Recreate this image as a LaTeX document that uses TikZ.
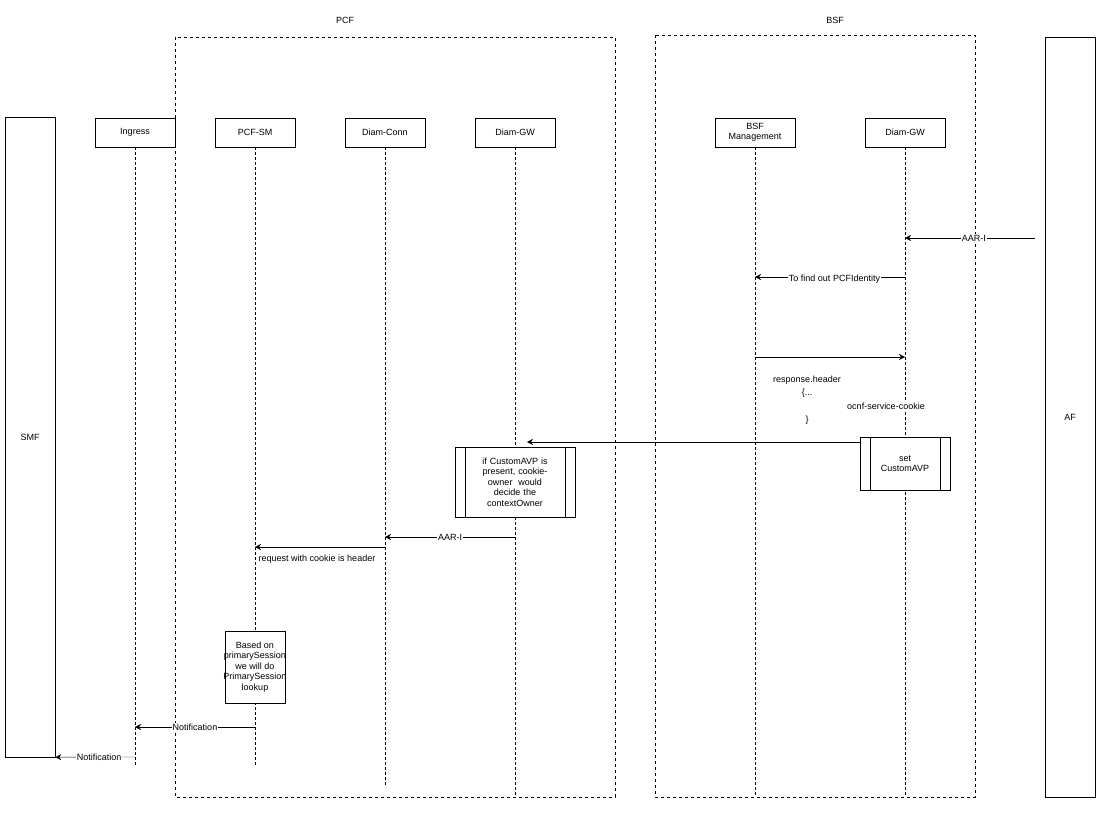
\documentclass[tikz,border=0pt]{standalone}
\usepackage{fontspec}
\setmainfont{Liberation Sans}
\usetikzlibrary{shapes.geometric,shapes.misc,arrows.meta}
\begin{document}
\begin{tikzpicture}[x=1pt,y=-1pt,font=\fontsize{9}{10.5}\selectfont,
actor/.style={draw,rectangle,minimum width=80pt,minimum height=29pt,inner sep=1pt,align=center},
bigbox/.style={draw,rectangle,minimum width=50pt,inner sep=0pt},
frame/.style={draw,dashed,rectangle,inner sep=0pt},
life/.style={densely dashed},
msg/.style={-{Stealth[length=6pt,width=6pt]}},
lbl/.style={fill=white,inner sep=1pt},
proc/.style={draw,rectangle,align=center,inner sep=1pt}]
\useasboundingbox (0,0) rectangle (1101,813);

% frames
\draw[dashed] (175,37) rectangle (615,797);
\node at (345,20) {PCF};
\draw[dashed] (655,35) rectangle (975,797);
\node at (835,20) {BSF};

% side actors
\node[bigbox,minimum height=640pt] (SMF) at (30,437) {SMF};
\node[bigbox,minimum height=760pt] (AF) at (1070,417) {AF};

% lifeline heads
\node[actor] (ingress) at (135,132.5) {Ingress};
\node[actor] (pcfsm) at (255,132.5) {PCF-SM};
\node[actor] (conn) at (385,132.5) {Diam-Conn};
\node[actor] (gw) at (515,132.5) {Diam-GW};
\node[actor,font=\fontsize{9}{9.5}\selectfont] (bsfm) at (755,132.5) {BSF\\Management};
\node[actor] (bgw) at (905,132.5) {Diam-GW};

\coordinate (ingressE) at (135,767);
\coordinate (pcfsmE) at (255,767);
\coordinate (connE) at (385,787);
\coordinate (gwE) at (515,797);
\coordinate (bsfmE) at (755,797);
\coordinate (bgwE) at (905,797);
\foreach \n in {ingress,pcfsm,conn,gw,bsfm,bgw}
  \draw[life] (\n.south) -- (\n E);

% messages
\coordinate (afout) at (1035,238);
\coordinate (bgw1) at (905,238);
\draw[msg] (afout) -- (bgw1) node[lbl,pos=0.47] {AAR-I};
\coordinate (bgw2) at (905,277);
\coordinate (bsfm2) at (755,277);
\draw[msg] (bgw2) -- (bsfm2) node[lbl,pos=0.47,below=-3pt] {To find out PCFIdentity};
\coordinate (bsfm3) at (755,357);
\coordinate (bgw3) at (905,357);
\draw[msg] (bsfm3) -- (bgw3);
\node[lbl] (resp) at (807,380) {response.header};
\node[lbl] at (807,393) {\{...};
\node[lbl] at (886,406) {ocnf-service-cookie};
\node[lbl] at (807,420) {\}};

\node[proc,fill=white,minimum width=90pt,minimum height=53pt,text width=60pt] (setavp) at (905,463.5) {set\\CustomAVP};
\draw (setavp.north west) ++(10,0) -- ++(0,53);
\draw (setavp.north east) ++(-10,0) -- ++(0,53);
\coordinate (gw4) at (527,442);
\draw[msg] (setavp.north west |- gw4) -- (gw4);

\node[proc,fill=white,minimum width=120pt,minimum height=70pt,text width=90pt] (decide) at (515,482)
  {if CustomAVP is\\present, cookie-\\owner\ \ would\\decide the\\contextOwner};
\draw (decide.north west) ++(10,0) -- ++(0,70);
\draw (decide.north east) ++(-10,0) -- ++(0,70);

\coordinate (gw5) at (515,537);
\coordinate (conn5) at (385,537);
\draw[msg] (gw5) -- (conn5) node[lbl,pos=0.5] {AAR-I};
\coordinate (conn6) at (385,547);
\coordinate (pcfsm6) at (255,547);
\draw[msg] (conn6) -- (pcfsm6);
\node[lbl] at (317,559) {request with cookie is header};

\node[draw,fill=white,cylinder,shape border rotate=90,aspect=0.6,minimum width=60pt,minimum height=72pt,
  inner sep=0pt] (lookup) at (255,667) {};
\node[align=center] at (lookup.center) {Based on\\primarySession\\we will do\\PrimarySession\\lookup};

\coordinate (pcfsm7) at (255,727);
\coordinate (ingress7) at (135,727);
\draw[msg] (pcfsm7) -- (ingress7) node[lbl,pos=0.5] {Notification};
\coordinate (ingress8) at (135,757);
\draw[msg] (ingress8) -- (SMF.south east) node[lbl,pos=0.45] {Notification};
\end{tikzpicture}
\end{document}
